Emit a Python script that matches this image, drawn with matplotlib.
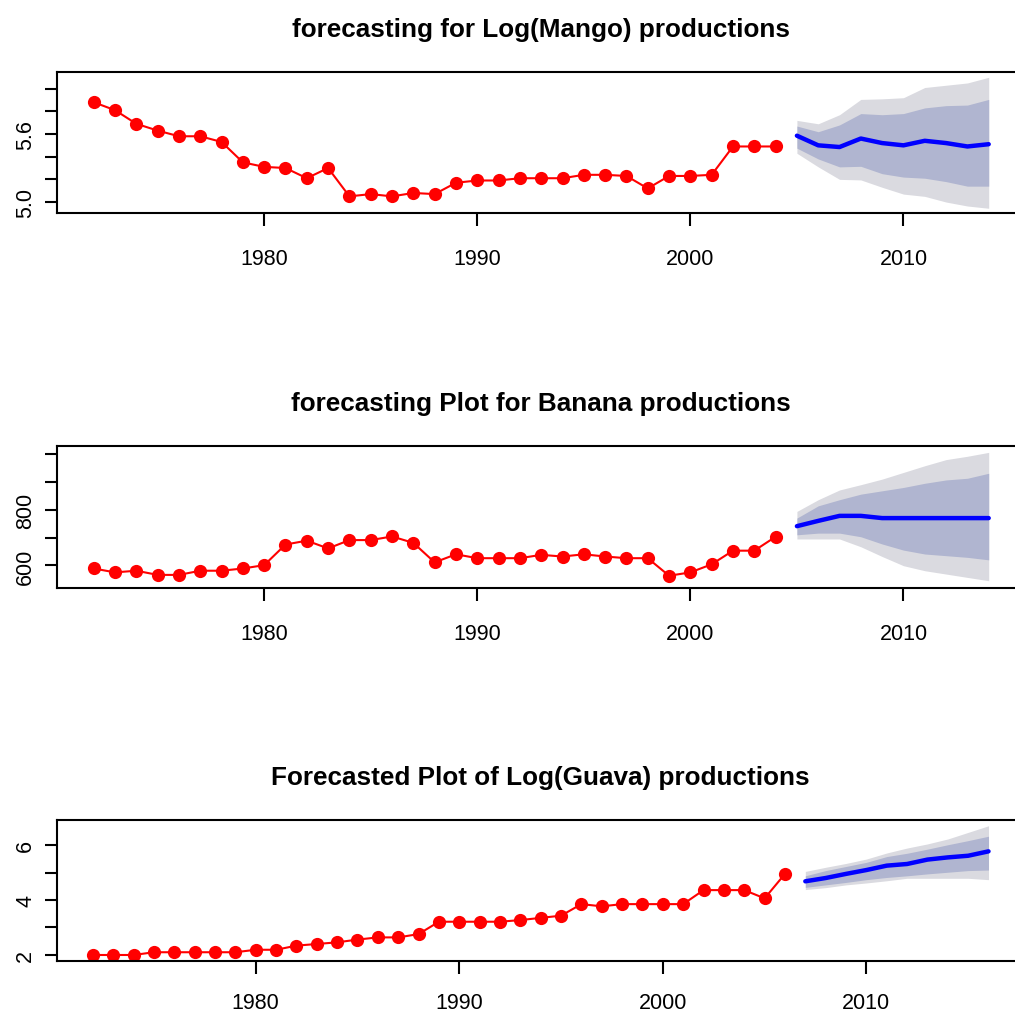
import numpy as np
import matplotlib
matplotlib.use("Agg")
import matplotlib.pyplot as plt

plt.rcParams['font.family'] = ['Liberation Sans', 'DejaVu Sans']

# ---- Mango (log scale), observed 1972-2004, forecast 2005-2014
mango_years = list(range(1972, 2005))
mango = [5.88, 5.81, 5.69, 5.63, 5.58, 5.58, 5.53, 5.35, 5.31, 5.30, 5.21,
         5.30, 5.05, 5.07, 5.05, 5.08, 5.07, 5.17, 5.19, 5.19, 5.21, 5.21,
         5.21, 5.24, 5.24, 5.23, 5.12, 5.23, 5.23, 5.24, 5.49, 5.49, 5.49]
mango_fc_years = list(range(2005, 2015))
mango_fc = [5.585, 5.50, 5.485, 5.56, 5.52, 5.50, 5.54, 5.52, 5.49, 5.51]
mango_lo80 = [5.475, 5.38, 5.31, 5.315, 5.25, 5.22, 5.21, 5.18, 5.14, 5.14]
mango_hi80 = [5.67, 5.62, 5.68, 5.78, 5.77, 5.78, 5.83, 5.85, 5.855, 5.905]
mango_lo95 = [5.43, 5.31, 5.20, 5.195, 5.13, 5.07, 5.05, 5.00, 4.965, 4.945]
mango_hi95 = [5.72, 5.69, 5.77, 5.905, 5.91, 5.92, 6.01, 6.03, 6.05, 6.10]

# ---- Banana, observed 1972-2004, forecast 2005-2014
banana_years = list(range(1972, 2005))
banana = [589, 575, 581, 566, 566, 581, 581, 589, 601, 675, 689, 661, 691,
          691, 704, 681, 611, 640, 626, 626, 626, 638, 632, 640, 632, 626,
          626, 563, 575, 604, 653, 653, 703]
banana_fc_years = list(range(2005, 2015))
banana_fc = [741, 760, 778, 778, 770, 770, 770, 770, 770, 770]
banana_lo80 = [710, 716, 716, 703, 677, 655, 641, 635, 629, 620]
banana_hi80 = [770, 814, 836, 856, 868, 880, 895, 907, 913, 931]
banana_lo95 = [695, 695, 695, 667, 632, 599, 581, 569, 557, 545]
banana_hi95 = [794, 836, 871, 890, 910, 934, 958, 980, 992, 1006]

# ---- Guava (log scale), observed 1972-2006, forecast 2007-2016
guava_years = list(range(1972, 2007))
guava = [2.00, 2.00, 2.00, 2.10, 2.10, 2.10, 2.10, 2.10, 2.19, 2.19, 2.34,
         2.40, 2.46, 2.56, 2.64, 2.64, 2.76, 3.21, 3.21, 3.21, 3.21, 3.27,
         3.35, 3.43, 3.85, 3.77, 3.85, 3.85, 3.85, 3.85, 4.36, 4.36, 4.36,
         4.06, 4.95]
guava_fc_years = list(range(2007, 2017))
guava_fc = [4.68, 4.80, 4.95, 5.09, 5.25, 5.31, 5.47, 5.55, 5.61, 5.77]
guava_lo80 = [4.46, 4.55, 4.64, 4.74, 4.82, 4.88, 4.95, 5.01, 5.07, 5.09]
guava_hi80 = [4.88, 5.07, 5.22, 5.37, 5.58, 5.70, 5.85, 6.01, 6.16, 6.32]
guava_lo95 = [4.38, 4.45, 4.55, 4.62, 4.70, 4.79, 4.79, 4.79, 4.79, 4.74]
guava_hi95 = [5.04, 5.19, 5.33, 5.49, 5.71, 5.89, 6.04, 6.22, 6.46, 6.70]

shade95 = '#dadae0'
shade80 = '#b0b5d0'

fig = plt.figure(figsize=(10.15, 10.12), dpi=100)


def forecast_panel(rect, title, yrs, obs, fyrs, fc, lo80, hi80, lo95, hi95,
                   xlim, ylim, yticks, ylabels, xpad=16):
    ax = fig.add_axes(rect)
    ax.fill_between(fyrs, lo95, hi95, color=shade95, lw=0)
    ax.fill_between(fyrs, lo80, hi80, color=shade80, lw=0)
    ax.plot(fyrs, fc, color='#0000ff', lw=3.2, solid_capstyle='round')
    ax.plot(yrs, obs, color='#ff0000', lw=1.5, marker='o', ms=9.5,
            markeredgewidth=0)
    ax.set_xlim(*xlim)
    ax.set_ylim(*ylim)
    ax.set_xticks([1980, 1990, 2000, 2010])
    ax.set_yticks(yticks)
    ax.set_yticklabels(ylabels, rotation=90, va='center')
    ax.tick_params(axis='x', length=9, width=1.5, pad=xpad, labelsize=15.5)
    ax.tick_params(axis='y', length=9, width=1.5, pad=6, labelsize=15.5)
    for s in ax.spines.values():
        s.set_linewidth(1.5)
    ax.set_title(title, fontsize=18.8, fontweight='bold', pad=26)
    return ax


forecast_panel([0.0562, 0.7885, 0.954, 0.1394],
               'forecasting for Log(Mango) productions',
               mango_years, mango, mango_fc_years, mango_fc,
               mango_lo80, mango_hi80, mango_lo95, mango_hi95,
               (1970.28, 2015.72), (4.903, 6.147),
               [5.0, 5.2, 5.4, 5.6, 5.8, 6.0], ['5.0', '', '', '5.6', '', ''])

forecast_panel([0.0562, 0.4180, 0.954, 0.1406],
               'forecasting Plot for Banana productions',
               banana_years, banana, banana_fc_years, banana_fc,
               banana_lo80, banana_hi80, banana_lo95, banana_hi95,
               (1970.28, 2015.72), (519, 1030),
               [600, 700, 800, 900, 1000], ['600', '', '800', '', ''])

forecast_panel([0.0562, 0.0491, 0.953, 0.1399],
               'Forecasted Plot of Log(Guava) productions',
               guava_years, guava, guava_fc_years, guava_fc,
               guava_lo80, guava_hi80, guava_lo95, guava_hi95,
               (1970.24, 2017.76), (1.77, 6.92),
               [2, 3, 4, 5, 6], ['2', '', '4', '', '6'], xpad=13)

fig.savefig('out.png', dpi=100)
